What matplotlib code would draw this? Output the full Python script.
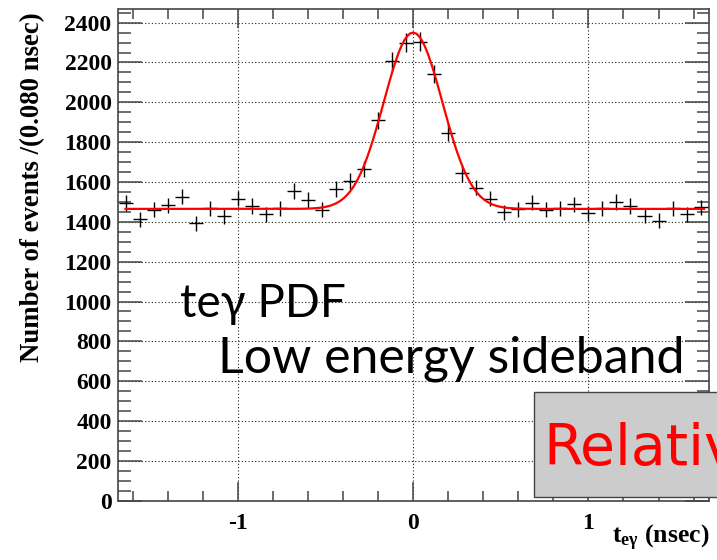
import numpy as np
import matplotlib
matplotlib.use("Agg")
import matplotlib.pyplot as plt
from matplotlib.patches import Rectangle

plt.rcParams['axes.unicode_minus'] = False
plt.rcParams['mathtext.fontset'] = 'custom'
plt.rcParams['mathtext.rm'] = 'Liberation Serif:bold'
plt.rcParams['mathtext.bf'] = 'Liberation Serif:bold'
plt.rcParams['mathtext.it'] = 'Liberation Serif:bold'

# ---- data ----
bin_centers = [-1.64, -1.56, -1.48, -1.40, -1.32, -1.24, -1.16, -1.08, -1.00, -0.92,
               -0.84, -0.76, -0.68, -0.60, -0.52, -0.44, -0.36, -0.28, -0.20, -0.12,
               -0.04, 0.04, 0.12, 0.20, 0.28, 0.36, 0.44, 0.52, 0.60, 0.68,
               0.76, 0.84, 0.92, 1.00, 1.08, 1.16, 1.24, 1.32, 1.40, 1.48,
               1.56, 1.64]
counts = [1495, 1413, 1460, 1483, 1527, 1393, 1467, 1427, 1517, 1480,
          1438, 1467, 1555, 1510, 1460, 1563, 1605, 1667, 1910, 2205,
          2300, 2305, 2143, 1847, 1643, 1572, 1517, 1447, 1463, 1497,
          1460, 1467, 1488, 1443, 1467, 1500, 1480, 1430, 1405, 1467,
          1438, 1472]
bin_width = 0.08

# fit function parameters (Gaussian + constant)
fit_const = 1465.0
fit_amp = 885.0
fit_mean = 0.0
fit_sigma = 0.167

x_ticks = [-1, 0, 1]
x_tick_labels = ['-1', '0', '1']
y_ticks = [0, 200, 400, 600, 800, 1000, 1200, 1400, 1600, 1800, 2000, 2200, 2400]

# ---- figure ----
W, H = 717, 560
fig = plt.figure(figsize=(W / 100, H / 100), dpi=100)
fig.patch.set_facecolor('white')
ax = fig.add_axes([118.5 / W, (H - 500.7) / H, (708.5 - 118.5) / W, (500.7 - 9.3) / H])

ax.set_xlim(-1.68, 1.685)
ax.set_ylim(0, 2467)

cnt = np.array(counts)
ax.errorbar(bin_centers, counts, xerr=bin_width / 2, yerr=np.sqrt(cnt),
            fmt='none', ecolor='black', elinewidth=1.0, capsize=0, zorder=3)

xf = np.linspace(-1.64, 1.66, 200)
yf = fit_const + fit_amp * np.exp(-0.5 * ((xf - fit_mean) / fit_sigma) ** 2)
ax.plot(xf, yf, color='#ff0000', lw=1.6, zorder=4)

ax.set_xticks(x_ticks)
ax.set_xticklabels(x_tick_labels)
ax.set_xticks(np.arange(-1.6, 1.61, 0.2), minor=True)
ax.set_yticks(y_ticks)
ax.set_yticks(np.arange(0, 2467, 50), minor=True)

ax.grid(True, which='major', linestyle=(0, (1, 2)), color='#222222', linewidth=0.8)
ax.set_axisbelow(True)

for s in ax.spines.values():
    s.set_color('#444444')
    s.set_linewidth(1.2)

ax.tick_params(axis='both', which='both', direction='in', color='#444444',
               top=True, right=True, width=1.1)
ax.tick_params(axis='x', which='major', length=14, pad=9)
ax.tick_params(axis='x', which='minor', length=7)
ax.tick_params(axis='y', which='major', length=17, pad=5)
ax.tick_params(axis='y', which='minor', length=9)

for lab in ax.get_xticklabels() + ax.get_yticklabels():
    lab.set_fontfamily('Liberation Serif')
    lab.set_fontweight('bold')
    lab.set_fontsize(17)

fig.text(33 / W, 1 - 187 / H, 'Number of events /(0.080 nsec)', rotation=90,
         ha='center', va='center', family='Liberation Serif', fontweight='bold',
         fontsize=19.3)

fig.text(709 / W, 1 - 543 / H, r'$\mathbf{t}_{\mathbf{e\gamma}}$ (nsec)',
         ha='right', va='baseline', family='Liberation Serif', fontweight='bold',
         fontsize=18.5)

fig.text(180 / W, 1 - 317 / H, 'teγ PDF', ha='left', va='baseline',
         family=['Lato', 'DejaVu Sans'], fontsize=33, color='black')
fig.text(218 / W, 1 - 372 / H, 'Low energy sideband', ha='left', va='baseline',
         family=['Lato', 'DejaVu Sans'], fontsize=36, color='black')

box = Rectangle((534 / W, 1 - 497 / H), 200 / W, (497 - 392) / H,
                transform=fig.transFigure, facecolor='#cccccc',
                edgecolor='#444444', linewidth=1.0, zorder=10)
fig.add_artist(box)
fig.text(543 / W, 1 - 465 / H, 'Relative', ha='left', va='baseline',
         family=['DejaVu Sans'], fontsize=41, color='#ff0000', zorder=11)

fig.savefig('out.png', dpi=100)
